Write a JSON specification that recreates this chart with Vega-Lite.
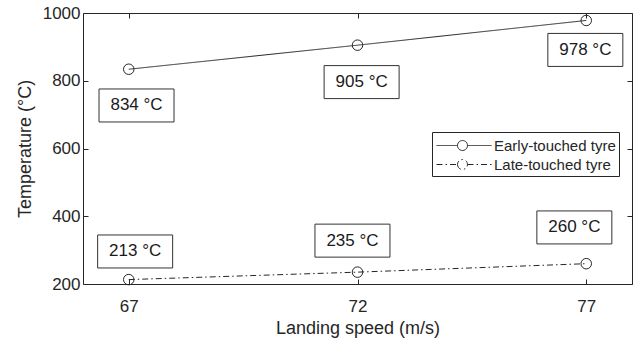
{
  "$schema": "https://vega.github.io/schema/vega-lite/v6.json",
  "autosize": {"type": "none"},
  "width": 549,
  "height": 271,
  "padding": {"left": 83, "top": 13, "right": 6, "bottom": 59},
  "background": "white",
  "config": {
    "font": "Liberation Sans",
    "view": {"stroke": "#262626", "strokeWidth": 1},
    "axis": {
      "labelFont": "Liberation Sans",
      "titleFont": "Liberation Sans",
      "labelFontSize": 17,
      "titleFontSize": 18,
      "titleFontWeight": "normal",
      "labelColor": "#262626",
      "titleColor": "#262626",
      "gridColor": "#e6e6e6",
      "gridWidth": 1,
      "domain": false,
      "tickColor": "#262626",
      "tickSize": 5
    }
  },
  "data": {
    "values": [
      {"series": "Early-touched tyre", "speed": 67, "temp": 834, "label_x": 67.17, "label_y": 727},
      {"series": "Early-touched tyre", "speed": 72, "temp": 905, "label_x": 72.09, "label_y": 796},
      {"series": "Early-touched tyre", "speed": 77, "temp": 978, "label_x": 76.98, "label_y": 891},
      {"series": "Late-touched tyre", "speed": 67, "temp": 213, "label_x": 67.14, "label_y": 296},
      {"series": "Late-touched tyre", "speed": 72, "temp": 235, "label_x": 71.89, "label_y": 328},
      {"series": "Late-touched tyre", "speed": 77, "temp": 260, "label_x": 76.74, "label_y": 367}
    ]
  },
  "transform": [{"calculate": "datum.temp + ' °C'", "as": "label"}],
  "layer": [
    {
      "description": "Inward box ticks on the top and right edges",
      "mark": {"type": "point", "opacity": 0},
      "encoding": {
        "x": {
          "field": "speed", "type": "quantitative",
          "scale": {"domain": [66, 78], "nice": false, "zero": false},
          "axis": {"orient": "top", "offset": -5, "values": [67, 72, 77], "labels": false, "grid": false, "title": null}
        },
        "y": {
          "field": "temp", "type": "quantitative",
          "scale": {"domain": [200, 1000], "nice": false, "zero": false},
          "axis": {"orient": "right", "offset": -5, "values": [200, 400, 600, 800, 1000], "labels": false, "grid": false, "title": null}
        }
      }
    },
    {
      "description": "Inward ticks on the bottom and left edges",
      "mark": {"type": "point", "opacity": 0},
      "encoding": {
        "x": {
          "field": "speed", "type": "quantitative",
          "axis": {"orient": "bottom", "offset": -5, "values": [67, 72, 77], "labels": false, "grid": false, "title": null}
        },
        "y": {
          "field": "temp", "type": "quantitative",
          "axis": {"orient": "left", "offset": -5, "values": [200, 400, 600, 800, 1000], "labels": false, "grid": false, "title": null}
        }
      }
    },
    {
      "mark": {"type": "line", "stroke": "#262626", "strokeWidth": 1},
      "encoding": {
        "x": {
          "field": "speed", "type": "quantitative",
          "axis": {"orient": "bottom", "values": [67, 72, 77], "ticks": false, "title": "Landing speed (m/s)", "labelPadding": 14, "titlePadding": 5}
        },
        "y": {
          "field": "temp", "type": "quantitative",
          "axis": {"orient": "left", "values": [200, 400, 600, 800, 1000], "format": "d", "ticks": false, "title": "Temperature (°C)", "labelPadding": 3, "titlePadding": 8}
        },
        "strokeDash": {
          "field": "series", "type": "nominal",
          "scale": {"domain": ["Early-touched tyre", "Late-touched tyre"], "range": [[1, 0], [6, 3, 1.5, 3]]},
          "legend": {
            "title": null,
            "orient": "none",
            "legendX": 349,
            "legendY": 119,
            "padding": 3,
            "strokeColor": "#262626",
            "fillColor": "white",
            "labelFont": "Liberation Sans",
            "labelFontSize": 15,
            "labelColor": "#262626",
            "symbolType": "M-0.9,0H1.2M2.2,0H4.6M1.2,0A0.5,0.5 0 1,0 2.2,0A0.5,0.5 0 1,0 1.2,0",
            "symbolSize": 400,
            "symbolStrokeColor": "#262626",
            "symbolStrokeWidth": 1,
            "rowPadding": 0,
            "labelOffset": 38
          }
        }
      }
    },
    {
      "mark": {"type": "point", "shape": "circle", "filled": false, "size": 110, "stroke": "#262626", "strokeWidth": 1, "opacity": 1},
      "encoding": {
        "x": {"field": "speed", "type": "quantitative", "axis": null},
        "y": {"field": "temp", "type": "quantitative", "axis": null}
      }
    },
    {
      "mark": {"type": "point", "shape": "M-1,-0.44H1V0.44H-1Z", "size": 5625, "filled": true, "fill": "white", "stroke": "#333333", "strokeWidth": 1, "opacity": 1},
      "encoding": {
        "x": {"field": "label_x", "type": "quantitative", "axis": null},
        "y": {"field": "label_y", "type": "quantitative", "axis": null}
      }
    },
    {
      "mark": {"type": "text", "font": "Liberation Sans", "fontSize": 17, "color": "#1a1a1a", "align": "center", "baseline": "middle"},
      "encoding": {
        "x": {"field": "label_x", "type": "quantitative", "axis": null},
        "y": {"field": "label_y", "type": "quantitative", "axis": null},
        "text": {"field": "label", "type": "nominal"}
      }
    }
  ],
  "resolve": {"axis": {"x": "independent", "y": "independent"}}
}
